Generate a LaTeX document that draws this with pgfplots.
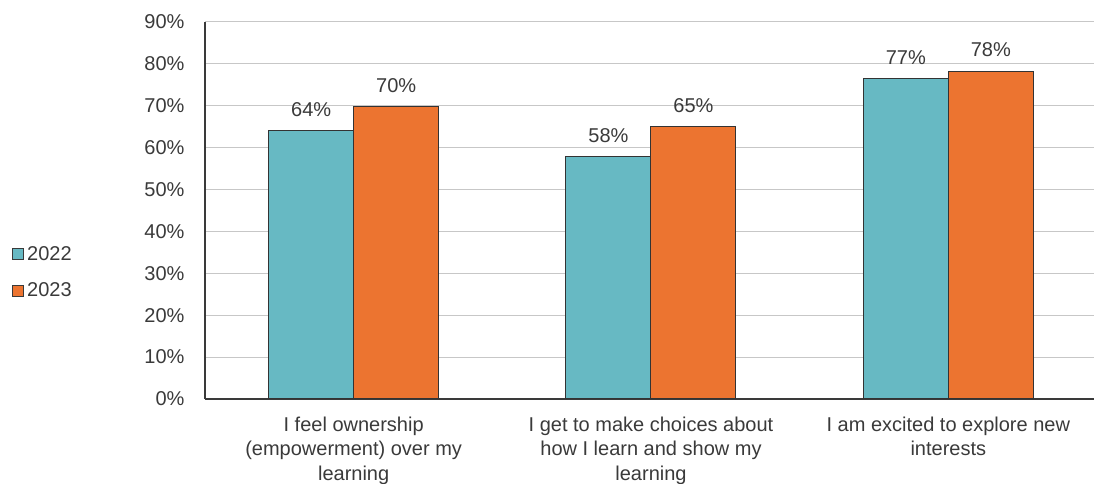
\documentclass[border=0pt]{standalone}
\usepackage{pgfplots}
\pgfplotsset{compat=1.18}
\usepackage{fontspec}
\setmainfont{Liberation Sans}
\definecolor{teal22}{HTML}{67B9C3}
\definecolor{orange23}{HTML}{EC7430}
\definecolor{txt}{HTML}{3A3A3A}
\begin{document}
\begin{tikzpicture}
\useasboundingbox (0,0) rectangle (1094pt,484pt);
\begin{axis}[
  at={(205pt,85pt)}, anchor=south west,
  scale only axis, width=889pt, height=377pt,
  ybar=0pt, bar width=85pt,
  xmin=-0.5, xmax=2.49, ymin=0, ymax=90,
  xtick={0,1,2},
  xticklabels={{I feel ownership\\(empowerment) over my\\learning},{I get to make choices about\\how I learn and show my\\learning},{I am excited to explore new\\interests}},
  ytick={0,10,...,90},
  yticklabel={\pgfmathprintnumber{\tick}\%},
  ymajorgrids, grid style={draw=black!22, line width=1pt},
  axis x line*=bottom, axis y line*=left,
  axis line style={-, draw=txt, line width=1.2pt},
  major tick length=0pt,
  tick label style={font=\fontsize{20}{24.5}\selectfont, text=txt},
  xticklabel style={align=center, yshift=-14pt},
  yticklabel style={xshift=-17pt},
  /pgf/number format/assume math mode=true,
  nodes near coords={\pgfmathprintnumber[fixed,precision=0]{\pgfplotspointmeta}\%},
  nodes near coords style={font=\fontsize{20}{24}\selectfont, text=txt, yshift=10pt},
  legend cell align=left,
  legend style={at={(-0.2205,0.336)}, anchor=west, draw=none, fill=none,
    font=\fontsize{20}{24}\selectfont, text=txt, row sep=17pt,
    /tikz/every odd column/.style={column sep=1pt}},
  legend image code/.code={\draw[#1, draw=txt, line width=1pt] (0pt,-5.5pt) rectangle (11pt,5.5pt);},
]
\addplot[fill=teal22, draw=black!80, line width=1pt] coordinates {(0,64.2) (1,58) (2,76.6)};
\addplot[fill=orange23, draw=black!80, line width=1pt] coordinates {(0,69.9) (1,65) (2,78.3)};
\legend{2022,2023}
\end{axis}
\end{tikzpicture}
\end{document}
